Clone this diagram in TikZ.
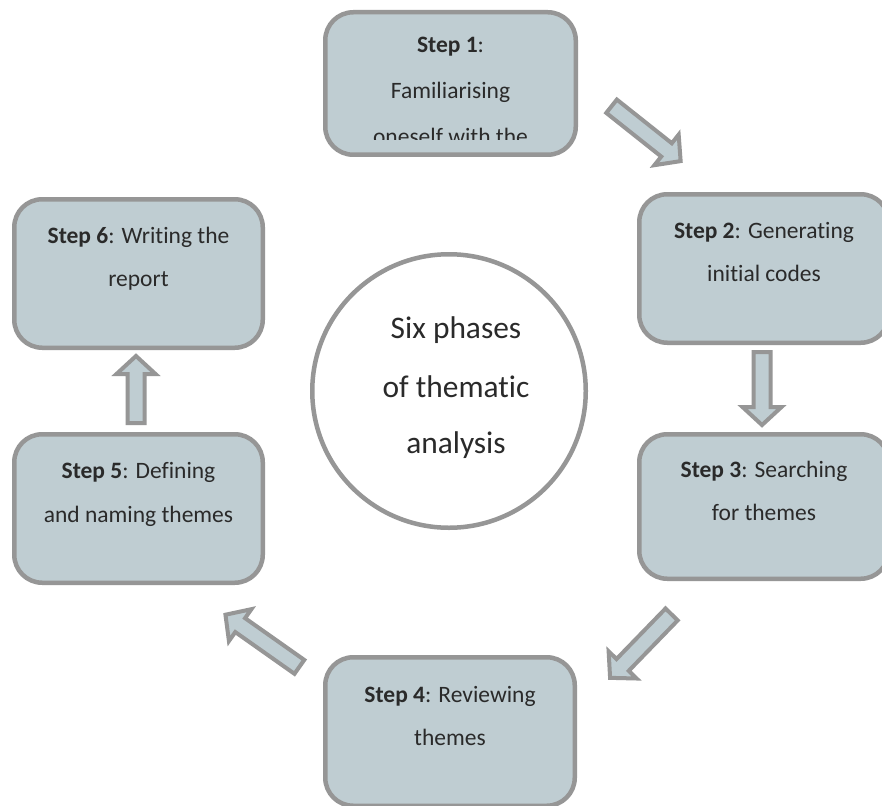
\documentclass[tikz,border=0pt]{standalone}
\usepackage{fontspec}
\setmainfont{Carlito}[RawFeature={-liga;-clig;-calt;-dlig}]
\usetikzlibrary{calc}
\definecolor{boxfill}{HTML}{BFCDD2}
\definecolor{boxline}{HTML}{969696}
\definecolor{txt}{HTML}{2A2A2A}
\tikzset{
  stepbox/.style={draw=boxline, fill=boxfill, line width=4.5pt, rounded corners=28pt, rectangle, inner sep=0pt},
  steptext/.style={anchor=base, inner sep=0pt, text=txt, font=\fontsize{23.5}{28}\selectfont},
  hubtext/.style={anchor=base, inner sep=0pt, text=txt, font=\fontsize{31.4}{36}\selectfont},
  barrow/.style={draw=boxline, fill=boxfill, line width=4pt, line join=miter},
}
\newcommand\blockarrow[2]{%
  \path[barrow] let \p1=(#1), \p2=(#2),
    \n1={atan2(\y2-\y1,\x2-\x1)}, \n2={veclen(\x2-\x1,\y2-\y1)} in
    ($(\p1)+({\n1}:2pt)+({\n1+90}:8.5pt)$)
    -- ($(\p1)+({\n1}:{\n2-21pt})+({\n1+90}:8.5pt)$)
    -- ($(\p1)+({\n1}:{\n2-21pt})+({\n1+90}:19.5pt)$)
    -- ($(\p1)+({\n1}:{\n2-3pt})$)
    -- ($(\p1)+({\n1}:{\n2-21pt})+({\n1-90}:19.5pt)$)
    -- ($(\p1)+({\n1}:{\n2-21pt})+({\n1-90}:8.5pt)$)
    -- ($(\p1)+({\n1}:2pt)+({\n1-90}:8.5pt)$)
    -- cycle;
}
\begin{document}
\begin{tikzpicture}[x=1pt,y=-1pt]
\useasboundingbox (0,0) rectangle (882,805);
\clip (0,0) rectangle (882,805);
\fill[white] (0,0) rectangle (882,805);

% boxes
\node[stepbox, minimum width=250.5pt, minimum height=142.5pt] (b1) at (450.5,83.5) {};
\node[stepbox, minimum width=249.5pt, minimum height=148.5pt] (b2) at (764,268.5) {};
\node[stepbox, minimum width=249.5pt, minimum height=144.5pt] (b3) at (764,506.5) {};
\node[stepbox, minimum width=249.5pt, minimum height=148.5pt] (b4) at (450,731.5) {};
\node[stepbox, minimum width=248.5pt, minimum height=148.5pt] (b5) at (138.5,508.5) {};
\node[stepbox, minimum width=248.5pt, minimum height=148.5pt] (b6) at (138.5,273.5) {};

% box texts
\node[steptext] (t1a) at (450.5,53) {\textbf{Step 1}:};
\node[steptext] (t1b) at (450.5,99) {Familiarising};
\begin{scope}
  \clip (323,10) rectangle (578,140);
  \node[steptext] (t1c) at (450.5,145) {oneself with the};
\end{scope}
\node[steptext] (t2a) at (764,238) {\textbf{Step 2}: Generating};
\node[steptext] (t2b) at (764,281) {initial codes};
\node[steptext] (t3a) at (764,477) {\textbf{Step 3}: Searching};
\node[steptext] (t3b) at (764,520) {for themes};
\node[steptext] (t4a) at (450,702) {\textbf{Step 4}: Reviewing};
\node[steptext] (t4b) at (450,745) {themes};
\node[steptext] (t5a) at (138.5,478) {\textbf{Step 5}: Defining};
\node[steptext] (t5b) at (138.5,522) {and naming themes};
\node[steptext] (t6a) at (138.5,243) {\textbf{Step 6}: Writing the};
\node[steptext] (t6b) at (138.5,286) {report};

% hub
\node[draw=boxline, fill=white, line width=4.5pt, circle, minimum size=273.5pt, inner sep=0pt] (hub) at (449,391) {};
\node[hubtext] (h1) at (456,338) {Six phases};
\node[hubtext] (h2) at (456,397) {of thematic};
\node[hubtext] (h3) at (456,453) {analysis};

% arrow ends
\coordinate (a12s) at (610,105);  \coordinate (a12e) at (683,163);
\coordinate (a23s) at (762,350);  \coordinate (a23e) at (762,428);
\coordinate (a34s) at (673,613);  \coordinate (a34e) at (608,680);
\coordinate (a45s) at (301,668);  \coordinate (a45e) at (223,613);
\coordinate (a56s) at (136,425);  \coordinate (a56e) at (136,353);

\blockarrow{a12s}{a12e}
\blockarrow{a23s}{a23e}
\blockarrow{a34s}{a34e}
\blockarrow{a45s}{a45e}
\blockarrow{a56s}{a56e}
\end{tikzpicture}
\end{document}
